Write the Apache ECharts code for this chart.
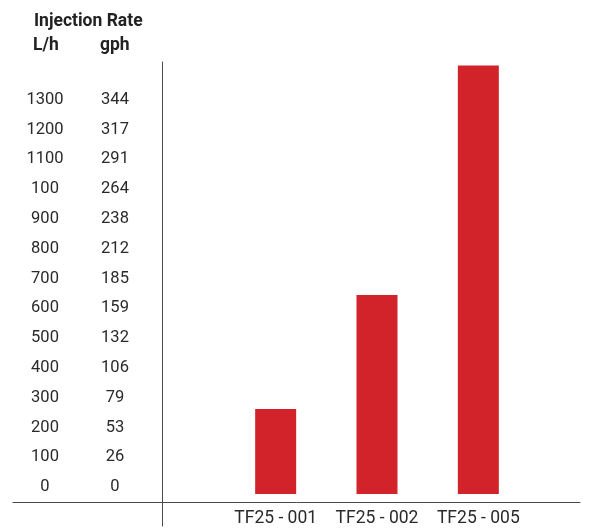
<!DOCTYPE html>
<html>
<head>
<meta charset="utf-8">
<script src="https://cdn.jsdelivr.net/npm/echarts@6/dist/echarts.min.js"></script>
<style>
html,body{margin:0;padding:0;background:#fff;}
#chart{width:597px;height:529px;}
</style>
</head>
<body>
<div id="chart"></div>
<script>
// ---- data ----
var categories = ['TF25 - 001', 'TF25 - 002', 'TF25 - 005'];
var injectionRate = [285, 668, 1438];
var tickValues = [0, 100, 200, 300, 400, 500, 600, 700, 800, 900, 1000, 1100, 1200, 1300];
var lphLabels = ['0', '100', '200', '300', '400', '500', '600', '700', '800', '900', '100', '1100', '1200', '1300'];
var gphLabels = ['0', '26', '53', '79', '106', '132', '159', '185', '212', '238', '264', '291', '317', '344'];

var FONT = 'Roboto, "DejaVu Sans", sans-serif';
var LINE = '#4a4a4a';
var chart = echarts.init(document.getElementById('chart'), null, {renderer: 'canvas'});

chart.setOption({
  animation: false,
  backgroundColor: '#fff',
  textStyle: {fontFamily: FONT},
  title: [
    {text: 'Injection Rate', left: 34, top: 13, padding: 0, textStyle: {fontFamily: FONT, fontSize: 17.5, fontWeight: 'bold', color: '#222'}},
    {text: 'L/h', left: 33, top: 37, padding: 0, textStyle: {fontFamily: FONT, fontSize: 17.5, fontWeight: 'bold', color: '#222'}},
    {text: 'gph', left: 100, top: 37, padding: 0, textStyle: {fontFamily: FONT, fontSize: 17.5, fontWeight: 'bold', color: '#222'}}
  ],
  grid: [
    {left: 225, right: 68, top: 62, bottom: 35},
    {left: 13, right: 17, top: 62, bottom: 27},
    {left: 162, right: 17, top: 62, bottom: 3}
  ],
  xAxis: [
    {
      gridIndex: 0, type: 'category', data: categories,
      axisLine: {show: false}, axisTick: {show: false},
      axisLabel: {interval: 0, hideOverlap: false, margin: 16, fontFamily: FONT, fontSize: 17.5, color: '#2a2a2a'}
    },
    {gridIndex: 1, type: 'category', data: [''], axisLine: {show: true, onZero: false, lineStyle: {color: LINE, width: 1}}, axisTick: {show: false}, axisLabel: {show: false}},
    {gridIndex: 2, type: 'category', data: [''], show: false}
  ],
  yAxis: [
    {
      gridIndex: 0, type: 'value', min: 0, max: 1450, interval: 100,
      axisLine: {show: false}, axisTick: {show: false}, splitLine: {show: false},
      axisLabel: {
        margin: 75, verticalAlign: 'bottom', align: 'right',
        formatter: function (v) {
          var i = tickValues.indexOf(v);
          if (i < 0) return '';
          return '{a|' + lphLabels[i] + '}{b|' + gphLabels[i] + '}';
        },
        rich: {
          a: {width: 70, align: 'center', fontFamily: FONT, fontSize: 16.5, color: '#2a2a2a', lineHeight: 14},
          b: {width: 70, align: 'center', fontFamily: FONT, fontSize: 16.5, color: '#2a2a2a', lineHeight: 14}
        }
      }
    },
    {gridIndex: 1, type: 'value', show: false},
    {gridIndex: 2, type: 'value', axisLine: {show: true, onZero: false, lineStyle: {color: LINE, width: 1}}, axisTick: {show: false}, axisLabel: {show: false}, splitLine: {show: false}}
  ],
  series: [
    {
      type: 'bar', xAxisIndex: 0, yAxisIndex: 0,
      data: injectionRate, barWidth: 41,
      itemStyle: {color: '#d2232a'}
    }
  ]
});
</script>
</body>
</html>
